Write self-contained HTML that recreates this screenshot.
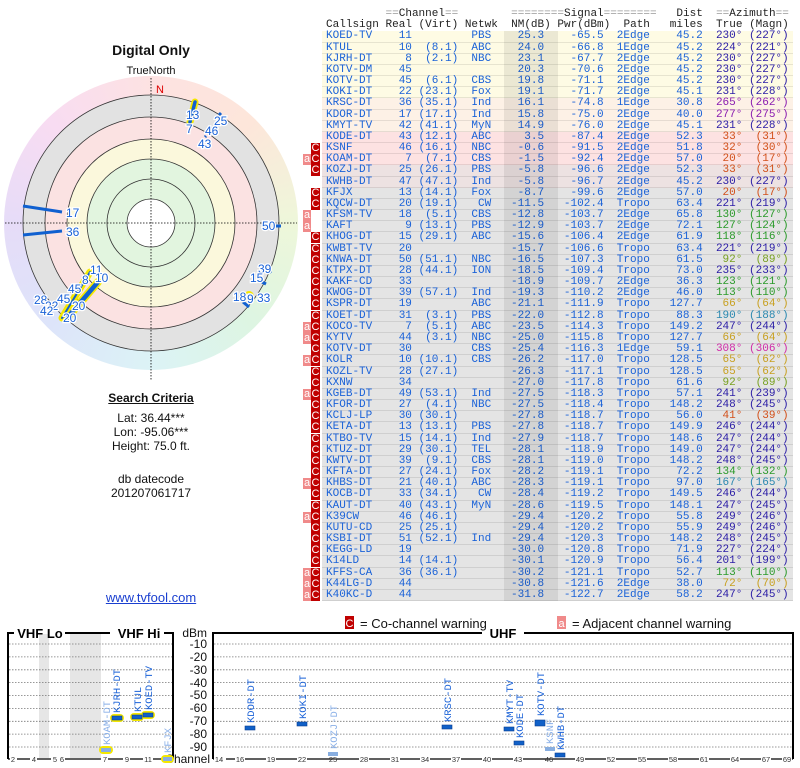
<!DOCTYPE html>
<html><head><meta charset="utf-8"><style>
*{margin:0;padding:0;box-sizing:border-box}
body{width:800px;height:768px;background:#fff;position:relative;overflow:hidden;font-family:"Liberation Sans",sans-serif}
.abs{position:absolute}
.ctr{position:absolute;left:0;width:302px;text-align:center;color:#111}
#tb{position:absolute;left:322px;top:9px;width:471px;font-family:"Liberation Mono",monospace;font-size:11.03px;line-height:11.18px;color:#1a62d8}
#tb p{position:relative;height:11.18px;padding-left:4px;white-space:pre;border-bottom:1px solid rgba(0,0,0,.09)}
#tb p.h{color:#222;border:none}
#tb p.h span{color:#999}
#tb p>*{display:inline-block;text-align:right;font-style:normal;font-weight:normal;text-decoration:none;white-space:pre}
#tb s{width:9ch;text-align:left!important}
#tb i{width:4ch}#tb u{width:7ch}#tb q{width:5ch}#tb q:before,#tb q:after{content:none}
#tb em{width:8ch}#tb dfn{width:9ch}#tb kbd{width:7ch;font:inherit}#tb var{width:8ch}
#tb b{width:6ch}#tb cite{width:7ch}
.y{background:#fefbe4}.p{background:#fdf1e6}.k{background:#fde2e2}.g2{background:#ede2e2}.g{background:#e4e4e4}
.c1 b,.c1 cite{color:#2a1ca6}.c2 b,.c2 cite{color:#8a1cb0}.c3 b,.c3 cite{color:#d2501a}.c4 b,.c4 cite{color:#2a9a2a}
.c5 b,.c5 cite{color:#78a020}.c6 b,.c6 cite{color:#c8a020}.c7 b,.c7 cite{color:#2a88b0}.c8 b,.c8 cite{color:#d02aa8}
#tb p .C,#tb p .A{position:absolute;top:0;height:11px;width:9px;color:#fff;text-align:center;font-family:"Liberation Sans",sans-serif;font-size:11px;line-height:11px}
#tb p .C{left:-11px;background:#c00000}
#tb p .A{left:-19px;width:8px;background:#f08a8a}
#nmband{position:absolute;left:504px;top:31px;width:54px;height:570px;background:rgba(0,0,0,.075)}
#rim{position:absolute;left:4px;top:76px;width:294px;height:294px;border-radius:50%;background:conic-gradient(#fde2e2,#fde6da 45deg,#eef7da 90deg,#ddf5e2 135deg,#dcf3f6 180deg,#dde4fa 225deg,#e6dcf8 270deg,#f8dcf2 315deg,#fde2e2)}
</style></head><body>

<div class="ctr" style="top:42px;font-size:14px;font-weight:bold">Digital Only</div>
<div id="rim"></div>
<div class="ctr" style="top:65px;font-size:11px">TrueNorth</div>
<svg class="abs" style="left:0;top:60px" width="302" height="320" viewBox="0 60 302 320">
<g stroke="#333" stroke-width=".8">
<circle cx="151" cy="223" r="128" fill="#e2e2e2"/>
<circle cx="151" cy="223" r="106" fill="#fbe2e2"/>
<circle cx="151" cy="223" r="84" fill="#fbf8dc"/>
<circle cx="151" cy="223" r="64" fill="#e2f5df"/>
<circle cx="151" cy="223" r="44" fill="#e2f5df"/>
<circle cx="151" cy="223" r="24" fill="#fff"/>
</g>
<g stroke="#000" stroke-width=".8" stroke-dasharray="1.5,1.5">
<line x1="5" y1="223" x2="297" y2="223"/><line x1="151" y1="78" x2="151" y2="380"/>
</g>
<text x="160" y="93" font-size="11" fill="#d00" text-anchor="middle">N</text>
<g stroke-linecap="round">
<line x1="195" y1="102" x2="190" y2="122" stroke="#f4e800" stroke-width="7"/>
<line x1="195" y1="102" x2="190" y2="122" stroke="#1060d0" stroke-width="3.5"/>
<line x1="90" y1="272" x2="62" y2="318" stroke="#f4e800" stroke-width="7"/>
<line x1="98" y1="282" x2="67" y2="318" stroke="#f4e800" stroke-width="8"/>
<line x1="98" y1="282" x2="67" y2="318" stroke="#1060d0" stroke-width="4.5"/>
<line x1="90" y1="272" x2="62" y2="318" stroke="#1060d0" stroke-width="2"/>
<circle cx="249" cy="296" r="4" fill="none" stroke="#f4e800" stroke-width="2"/>
</g>
<g stroke="#1060d0" stroke-width="3">
<line x1="23" y1="206" x2="62" y2="212"/><line x1="23" y1="235" x2="62" y2="231"/>
<line x1="275" y1="226" x2="281" y2="226"/><line x1="262" y1="282" x2="266" y2="284"/>
<line x1="243" y1="302" x2="249" y2="307"/><line x1="269" y1="271" x2="271" y2="273"/>
<line x1="219" y1="115" x2="221" y2="113"/><line x1="212" y1="130" x2="213" y2="128"/><line x1="205" y1="137" x2="206" y2="136"/>
</g>
<g font-size="12" fill="#1a62d8" stroke="#fff" stroke-width="2.5" paint-order="stroke">
<text x="66" y="217">17</text><text x="66" y="236">36</text>
<text x="186" y="119">13</text><text x="186" y="133">7</text>
<text x="214" y="125">25</text><text x="205" y="135">46</text><text x="198" y="148">43</text>
<text x="262" y="230">50</text>
<text x="258" y="273">39</text><text x="250" y="282">15</text><text x="257" y="302">33</text>
<text x="233" y="301">18</text><text x="247" y="303">9</text>
<text x="90" y="274">11</text><text x="82" y="284">8</text><text x="95" y="282">10</text>
<text x="68" y="293">45</text><text x="57" y="303">45</text><text x="72" y="310">20</text><text x="63" y="322">20</text>
<text x="34" y="304">28</text><text x="45" y="310">22</text><text x="40" y="315">42</text>
</g>
</svg>

<div class="ctr" style="top:391px;font-size:12px;font-weight:bold;text-decoration:underline">Search Criteria</div>
<div class="ctr" style="top:411px;font-size:12px;line-height:14px">Lat: 36.44***<br>Lon: -95.06***<br>Height: 75.0 ft.</div>
<div class="ctr" style="top:472px;font-size:12px;line-height:14px">db datecode<br>201207061717</div>
<div class="ctr" style="top:590px;font-size:13px;color:#1a3fd0;text-decoration:underline">www.tvfool.com</div>

<div id="tb">
<p class="h"><span>         ==</span>Channel<span>==        ========</span>Signal<span>========</span>   Dist  <span>==</span>Azimuth<span>==</span></p>
<p class="h">Callsign Real (Virt) Netwk  NM(dB) Pwr(dBm)  Path   miles  True (Magn)</p>
<p class="y c1"><s>KOED-TV</s><i>11</i><u></u><q>PBS</q><em>25.3</em><dfn>-65.5</dfn><kbd>2Edge</kbd><var>45.2</var><b>230°</b><cite>(227°)</cite></p>
<p class="y c1"><s>KTUL</s><i>10</i><u>(8.1)</u><q>ABC</q><em>24.0</em><dfn>-66.8</dfn><kbd>1Edge</kbd><var>45.2</var><b>224°</b><cite>(221°)</cite></p>
<p class="y c1"><s>KJRH-DT</s><i>8</i><u>(2.1)</u><q>NBC</q><em>23.1</em><dfn>-67.7</dfn><kbd>2Edge</kbd><var>45.2</var><b>230°</b><cite>(227°)</cite></p>
<p class="y c1"><s>KOTV-DM</s><i>45</i><u></u><q></q><em>20.3</em><dfn>-70.6</dfn><kbd>2Edge</kbd><var>45.2</var><b>230°</b><cite>(227°)</cite></p>
<p class="y c1"><s>KOTV-DT</s><i>45</i><u>(6.1)</u><q>CBS</q><em>19.8</em><dfn>-71.1</dfn><kbd>2Edge</kbd><var>45.2</var><b>230°</b><cite>(227°)</cite></p>
<p class="y c1"><s>KOKI-DT</s><i>22</i><u>(23.1)</u><q>Fox</q><em>19.1</em><dfn>-71.7</dfn><kbd>2Edge</kbd><var>45.1</var><b>231°</b><cite>(228°)</cite></p>
<p class="p c2"><s>KRSC-DT</s><i>36</i><u>(35.1)</u><q>Ind</q><em>16.1</em><dfn>-74.8</dfn><kbd>1Edge</kbd><var>30.8</var><b>265°</b><cite>(262°)</cite></p>
<p class="p c2"><s>KDOR-DT</s><i>17</i><u>(17.1)</u><q>Ind</q><em>15.8</em><dfn>-75.0</dfn><kbd>2Edge</kbd><var>40.0</var><b>277°</b><cite>(275°)</cite></p>
<p class="p c1"><s>KMYT-TV</s><i>42</i><u>(41.1)</u><q>MyN</q><em>14.9</em><dfn>-76.0</dfn><kbd>2Edge</kbd><var>45.1</var><b>231°</b><cite>(228°)</cite></p>
<p class="k c3"><s>KODE-DT</s><i>43</i><u>(12.1)</u><q>ABC</q><em>3.5</em><dfn>-87.4</dfn><kbd>2Edge</kbd><var>52.3</var><b>33°</b><cite>(31°)</cite></p>
<p class="k c3"><span class="C">C</span><s>KSNF</s><i>46</i><u>(16.1)</u><q>NBC</q><em>-0.6</em><dfn>-91.5</dfn><kbd>2Edge</kbd><var>51.8</var><b>32°</b><cite>(30°)</cite></p>
<p class="k c3"><span class="A">a</span><span class="C">C</span><s>KOAM-DT</s><i>7</i><u>(7.1)</u><q>CBS</q><em>-1.5</em><dfn>-92.4</dfn><kbd>2Edge</kbd><var>57.0</var><b>20°</b><cite>(17°)</cite></p>
<p class="g2 c3"><span class="C">C</span><s>KOZJ-DT</s><i>25</i><u>(26.1)</u><q>PBS</q><em>-5.8</em><dfn>-96.6</dfn><kbd>2Edge</kbd><var>52.3</var><b>33°</b><cite>(31°)</cite></p>
<p class="g2 c1"><s>KWHB-DT</s><i>47</i><u>(47.1)</u><q>Ind</q><em>-5.8</em><dfn>-96.7</dfn><kbd>2Edge</kbd><var>45.2</var><b>230°</b><cite>(227°)</cite></p>
<p class="g c3"><span class="C">C</span><s>KFJX</s><i>13</i><u>(14.1)</u><q>Fox</q><em>-8.7</em><dfn>-99.6</dfn><kbd>2Edge</kbd><var>57.0</var><b>20°</b><cite>(17°)</cite></p>
<p class="g c1"><span class="C">C</span><s>KQCW-DT</s><i>20</i><u>(19.1)</u><q>CW</q><em>-11.5</em><dfn>-102.4</dfn><kbd>Tropo</kbd><var>63.4</var><b>221°</b><cite>(219°)</cite></p>
<p class="g c4"><span class="A">a</span><s>KFSM-TV</s><i>18</i><u>(5.1)</u><q>CBS</q><em>-12.8</em><dfn>-103.7</dfn><kbd>2Edge</kbd><var>65.8</var><b>130°</b><cite>(127°)</cite></p>
<p class="g c4"><span class="A">a</span><s>KAFT</s><i>9</i><u>(13.1)</u><q>PBS</q><em>-12.9</em><dfn>-103.7</dfn><kbd>2Edge</kbd><var>72.1</var><b>127°</b><cite>(124°)</cite></p>
<p class="g c4"><span class="C">C</span><s>KHOG-DT</s><i>15</i><u>(29.1)</u><q>ABC</q><em>-15.6</em><dfn>-106.4</dfn><kbd>2Edge</kbd><var>61.9</var><b>118°</b><cite>(116°)</cite></p>
<p class="g c1"><span class="C">C</span><s>KWBT-TV</s><i>20</i><u></u><q></q><em>-15.7</em><dfn>-106.6</dfn><kbd>Tropo</kbd><var>63.4</var><b>221°</b><cite>(219°)</cite></p>
<p class="g c5"><span class="C">C</span><s>KNWA-DT</s><i>50</i><u>(51.1)</u><q>NBC</q><em>-16.5</em><dfn>-107.3</dfn><kbd>Tropo</kbd><var>61.5</var><b>92°</b><cite>(89°)</cite></p>
<p class="g c1"><span class="C">C</span><s>KTPX-DT</s><i>28</i><u>(44.1)</u><q>ION</q><em>-18.5</em><dfn>-109.4</dfn><kbd>Tropo</kbd><var>73.0</var><b>235°</b><cite>(233°)</cite></p>
<p class="g c4"><span class="C">C</span><s>KAKF-CD</s><i>33</i><u></u><q></q><em>-18.9</em><dfn>-109.7</dfn><kbd>2Edge</kbd><var>36.3</var><b>123°</b><cite>(121°)</cite></p>
<p class="g c4"><span class="C">C</span><s>KWOG-DT</s><i>39</i><u>(57.1)</u><q>Ind</q><em>-19.3</em><dfn>-110.2</dfn><kbd>2Edge</kbd><var>46.0</var><b>113°</b><cite>(110°)</cite></p>
<p class="g c6"><span class="C">C</span><s>KSPR-DT</s><i>19</i><u></u><q>ABC</q><em>-21.1</em><dfn>-111.9</dfn><kbd>Tropo</kbd><var>127.7</var><b>66°</b><cite>(64°)</cite></p>
<p class="g c7"><span class="C">C</span><s>KOET-DT</s><i>31</i><u>(3.1)</u><q>PBS</q><em>-22.0</em><dfn>-112.8</dfn><kbd>Tropo</kbd><var>88.3</var><b>190°</b><cite>(188°)</cite></p>
<p class="g c1"><span class="A">a</span><span class="C">C</span><s>KOCO-TV</s><i>7</i><u>(5.1)</u><q>ABC</q><em>-23.5</em><dfn>-114.3</dfn><kbd>Tropo</kbd><var>149.2</var><b>247°</b><cite>(244°)</cite></p>
<p class="g c6"><span class="A">a</span><span class="C">C</span><s>KYTV</s><i>44</i><u>(3.1)</u><q>NBC</q><em>-25.0</em><dfn>-115.8</dfn><kbd>Tropo</kbd><var>127.7</var><b>66°</b><cite>(64°)</cite></p>
<p class="g c8"><span class="C">C</span><s>KOTV-DT</s><i>30</i><u></u><q>CBS</q><em>-25.4</em><dfn>-116.3</dfn><kbd>1Edge</kbd><var>59.1</var><b>308°</b><cite>(306°)</cite></p>
<p class="g c6"><span class="A">a</span><span class="C">C</span><s>KOLR</s><i>10</i><u>(10.1)</u><q>CBS</q><em>-26.2</em><dfn>-117.0</dfn><kbd>Tropo</kbd><var>128.5</var><b>65°</b><cite>(62°)</cite></p>
<p class="g c6"><span class="C">C</span><s>KOZL-TV</s><i>28</i><u>(27.1)</u><q></q><em>-26.3</em><dfn>-117.1</dfn><kbd>Tropo</kbd><var>128.5</var><b>65°</b><cite>(62°)</cite></p>
<p class="g c5"><span class="C">C</span><s>KXNW</s><i>34</i><u></u><q></q><em>-27.0</em><dfn>-117.8</dfn><kbd>Tropo</kbd><var>61.6</var><b>92°</b><cite>(89°)</cite></p>
<p class="g c1"><span class="A">a</span><span class="C">C</span><s>KGEB-DT</s><i>49</i><u>(53.1)</u><q>Ind</q><em>-27.5</em><dfn>-118.3</dfn><kbd>Tropo</kbd><var>57.1</var><b>241°</b><cite>(239°)</cite></p>
<p class="g c1"><span class="C">C</span><s>KFOR-DT</s><i>27</i><u>(4.1)</u><q>NBC</q><em>-27.5</em><dfn>-118.4</dfn><kbd>Tropo</kbd><var>148.2</var><b>248°</b><cite>(245°)</cite></p>
<p class="g c3"><span class="C">C</span><s>KCLJ-LP</s><i>30</i><u>(30.1)</u><q></q><em>-27.8</em><dfn>-118.7</dfn><kbd>Tropo</kbd><var>56.0</var><b>41°</b><cite>(39°)</cite></p>
<p class="g c1"><span class="C">C</span><s>KETA-DT</s><i>13</i><u>(13.1)</u><q>PBS</q><em>-27.8</em><dfn>-118.7</dfn><kbd>Tropo</kbd><var>149.9</var><b>246°</b><cite>(244°)</cite></p>
<p class="g c1"><span class="C">C</span><s>KTBO-TV</s><i>15</i><u>(14.1)</u><q>Ind</q><em>-27.9</em><dfn>-118.7</dfn><kbd>Tropo</kbd><var>148.6</var><b>247°</b><cite>(244°)</cite></p>
<p class="g c1"><span class="C">C</span><s>KTUZ-DT</s><i>29</i><u>(30.1)</u><q>TEL</q><em>-28.1</em><dfn>-118.9</dfn><kbd>Tropo</kbd><var>149.0</var><b>247°</b><cite>(244°)</cite></p>
<p class="g c1"><span class="C">C</span><s>KWTV-DT</s><i>39</i><u>(9.1)</u><q>CBS</q><em>-28.1</em><dfn>-119.0</dfn><kbd>Tropo</kbd><var>148.2</var><b>248°</b><cite>(245°)</cite></p>
<p class="g c4"><span class="C">C</span><s>KFTA-DT</s><i>27</i><u>(24.1)</u><q>Fox</q><em>-28.2</em><dfn>-119.1</dfn><kbd>Tropo</kbd><var>72.2</var><b>134°</b><cite>(132°)</cite></p>
<p class="g c7"><span class="A">a</span><span class="C">C</span><s>KHBS-DT</s><i>21</i><u>(40.1)</u><q>ABC</q><em>-28.3</em><dfn>-119.1</dfn><kbd>Tropo</kbd><var>97.0</var><b>167°</b><cite>(165°)</cite></p>
<p class="g c1"><span class="C">C</span><s>KOCB-DT</s><i>33</i><u>(34.1)</u><q>CW</q><em>-28.4</em><dfn>-119.2</dfn><kbd>Tropo</kbd><var>149.5</var><b>246°</b><cite>(244°)</cite></p>
<p class="g c1"><span class="C">C</span><s>KAUT-DT</s><i>40</i><u>(43.1)</u><q>MyN</q><em>-28.6</em><dfn>-119.5</dfn><kbd>Tropo</kbd><var>148.1</var><b>247°</b><cite>(245°)</cite></p>
<p class="g c1"><span class="A">a</span><span class="C">C</span><s>K39CW</s><i>46</i><u>(46.1)</u><q></q><em>-29.4</em><dfn>-120.2</dfn><kbd>Tropo</kbd><var>55.8</var><b>249°</b><cite>(246°)</cite></p>
<p class="g c1"><span class="C">C</span><s>KUTU-CD</s><i>25</i><u>(25.1)</u><q></q><em>-29.4</em><dfn>-120.2</dfn><kbd>Tropo</kbd><var>55.9</var><b>249°</b><cite>(246°)</cite></p>
<p class="g c1"><span class="C">C</span><s>KSBI-DT</s><i>51</i><u>(52.1)</u><q>Ind</q><em>-29.4</em><dfn>-120.3</dfn><kbd>Tropo</kbd><var>148.2</var><b>248°</b><cite>(245°)</cite></p>
<p class="g c1"><span class="C">C</span><s>KEGG-LD</s><i>19</i><u></u><q></q><em>-30.0</em><dfn>-120.8</dfn><kbd>Tropo</kbd><var>71.9</var><b>227°</b><cite>(224°)</cite></p>
<p class="g c1"><span class="C">C</span><s>K14LD</s><i>14</i><u>(14.1)</u><q></q><em>-30.1</em><dfn>-120.9</dfn><kbd>Tropo</kbd><var>56.4</var><b>201°</b><cite>(199°)</cite></p>
<p class="g c4"><span class="A">a</span><span class="C">C</span><s>KFFS-CA</s><i>36</i><u>(36.1)</u><q></q><em>-30.2</em><dfn>-121.1</dfn><kbd>Tropo</kbd><var>52.7</var><b>113°</b><cite>(110°)</cite></p>
<p class="g c6"><span class="A">a</span><span class="C">C</span><s>K44LG-D</s><i>44</i><u></u><q></q><em>-30.8</em><dfn>-121.6</dfn><kbd>2Edge</kbd><var>38.0</var><b>72°</b><cite>(70°)</cite></p>
<p class="g c1"><span class="A">a</span><span class="C">C</span><s>K40KC-D</s><i>44</i><u></u><q></q><em>-31.8</em><dfn>-122.7</dfn><kbd>2Edge</kbd><var>58.2</var><b>247°</b><cite>(245°)</cite></p>
</div>
<div id="nmband"></div>

<svg class="abs" style="left:0;top:610px" width="800" height="158" viewBox="0 610 800 158" font-family="Liberation Sans, sans-serif">
<rect x="345" y="616" width="9" height="13" fill="#c00000"/><text x="349.5" y="627" font-size="11" fill="#fff" text-anchor="middle">C</text>
<text x="360" y="628" font-size="13" fill="#111">= Co-channel warning</text>
<rect x="557" y="616" width="9" height="13" fill="#f08a8a"/><text x="561.5" y="627" font-size="11" fill="#fff" text-anchor="middle">a</text>
<text x="572" y="628" font-size="13" fill="#111">= Adjacent channel warning</text>
<rect x="39" y="634" width="10" height="124" fill="#e6e6e6"/>
<rect x="70" y="634" width="31" height="124" fill="#e6e6e6"/>
<g stroke="#777" stroke-width=".8" stroke-dasharray="1.5,1.5">
<path d="M9 644H172M9 656.9H172M9 669.8H172M9 682.6H172M9 695.5H172M9 708.4H172M9 721.3H172M9 734.1H172M9 747H172"/>
<path d="M214 644H792M214 656.9H792M214 669.8H792M214 682.6H792M214 695.5H792M214 708.4H792M214 721.3H792M214 734.1H792M214 747H792"/>
</g>
<g fill="none" stroke="#000" stroke-width="2">
<path d="M8 759V633H14M65 633H110M164 633H173V759"/>
<path d="M213 759V633H482"/>
<path d="M524 633H793V759"/>
<path d="M8 759H173M213 759H793" stroke-width="1.2"/>
</g>
<g font-weight="bold" font-size="13" text-anchor="middle" fill="#000">
<text x="40" y="638">VHF Lo</text><text x="139" y="638">VHF Hi</text><text x="503" y="638">UHF</text>
</g>
<g font-size="12" text-anchor="end" fill="#111">
<text x="207" y="637">dBm</text>
<text x="207" y="648">-10</text><text x="207" y="661">-20</text><text x="207" y="674">-30</text><text x="207" y="687">-40</text><text x="207" y="699">-50</text><text x="207" y="712">-60</text><text x="207" y="725">-70</text><text x="207" y="738">-80</text><text x="207" y="751">-90</text>
</g>
<g font-size="7.5" text-anchor="middle" fill="#333">
<g fill="#fff"><rect x="10" y="755" width="7" height="8"/><rect x="30" y="755" width="7" height="8"/><rect x="51" y="755" width="14" height="8"/><rect x="101" y="755" width="7" height="8"/><rect x="123" y="755" width="7" height="8"/><rect x="143" y="755" width="10" height="8"/>
<rect x="214" y="755" width="12" height="8"/><rect x="235" y="755" width="10" height="8"/><rect x="266" y="755" width="10" height="8"/><rect x="297" y="755" width="10" height="8"/><rect x="359" y="755" width="10" height="8"/><rect x="390" y="755" width="10" height="8"/><rect x="420" y="755" width="10" height="8"/><rect x="451" y="755" width="10" height="8"/><rect x="482" y="755" width="10" height="8"/><rect x="513" y="755" width="10" height="8"/><rect x="575" y="755" width="10" height="8"/><rect x="606" y="755" width="10" height="8"/><rect x="637" y="755" width="10" height="8"/><rect x="668" y="755" width="10" height="8"/><rect x="699" y="755" width="10" height="8"/><rect x="730" y="755" width="10" height="8"/><rect x="761" y="755" width="10" height="8"/><rect x="782" y="755" width="10" height="8"/></g>
<text x="13" y="762">2</text><text x="34" y="762">4</text><text x="55" y="762">5</text><text x="62" y="762">6</text><text x="105" y="762">7</text><text x="127" y="762">9</text><text x="148" y="762">11</text>
<text x="219" y="762">14</text><text x="240" y="762">16</text><text x="271" y="762">19</text><text x="302" y="762">22</text><text x="333" y="762">25</text><text x="364" y="762">28</text><text x="395" y="762">31</text><text x="425" y="762">34</text><text x="456" y="762">37</text><text x="487" y="762">40</text><text x="518" y="762">43</text><text x="549" y="762">46</text><text x="580" y="762">49</text><text x="611" y="762">52</text><text x="642" y="762">55</text><text x="673" y="762">58</text><text x="704" y="762">61</text><text x="735" y="762">64</text><text x="766" y="762">67</text><text x="787" y="762">69</text>
</g>
<text x="210" y="763" font-size="12" text-anchor="end" fill="#111">Channel</text>
<g fill="#f4e800">
<rect x="99" y="746" width="14" height="8" rx="4"/><rect x="110" y="714" width="14" height="8" rx="4"/><rect x="130" y="713" width="14" height="8" rx="4"/><rect x="141" y="711" width="14" height="8" rx="4"/><rect x="161" y="755" width="13" height="8" rx="4"/>
</g>
<g fill="#1060c8" stroke="#0a3f90" stroke-width=".6">
<rect x="112" y="716" width="10" height="4"/><rect x="132" y="715" width="10" height="4"/><rect x="143" y="713" width="10" height="4"/>
<rect x="245" y="726" width="10" height="4"/><rect x="297" y="722" width="10" height="4"/><rect x="442" y="725" width="10" height="4"/><rect x="504" y="727" width="10" height="4"/><rect x="514" y="741" width="10" height="4"/><rect x="535" y="720" width="10" height="6"/><rect x="555" y="753" width="10" height="4"/>
</g>
<g fill="#88aee0">
<rect x="101" y="748" width="10" height="4"/><rect x="163" y="757" width="9" height="4"/><rect x="328" y="752" width="10" height="4"/><rect x="545" y="747" width="10" height="4"/>
</g>
<g font-family="Liberation Mono, monospace" font-size="10.5" fill="#1a62d8">
<text transform="translate(120,713) rotate(-90)">KJRH-DT</text>
<text transform="translate(141,712) rotate(-90)">KTUL</text>
<text transform="translate(152,710) rotate(-90)">KOED-TV</text>
<text transform="translate(254,723) rotate(-90)">KDOR-DT</text>
<text transform="translate(306,719) rotate(-90)">KOKI-DT</text>
<text transform="translate(451,722) rotate(-90)">KRSC-DT</text>
<text transform="translate(513,724) rotate(-90)">KMYT-TV</text>
<text transform="translate(523,738) rotate(-90)">KODE-DT</text>
<text transform="translate(544,716) rotate(-90)">KOTV-DT</text>
<text transform="translate(564,750) rotate(-90)">KWHB-DT</text>
</g>
<g font-family="Liberation Mono, monospace" font-size="10.5" fill="#8ab0e8">
<text transform="translate(110,745) rotate(-90)">KOAM-DT</text>
<text transform="translate(171,753) rotate(-90)">KFJX</text>
<text transform="translate(337,749) rotate(-90)">KOZJ-DT</text>
<text transform="translate(553,744) rotate(-90)">KSNF</text>
</g>
</svg>
</body></html>
